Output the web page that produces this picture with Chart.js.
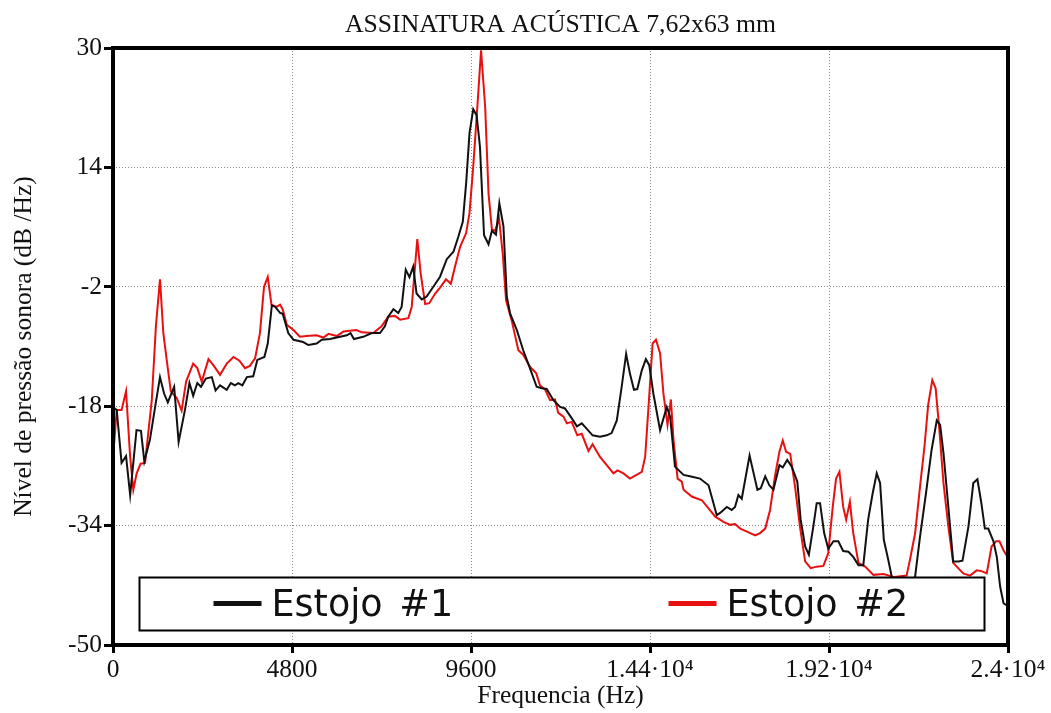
<!DOCTYPE html>
<html>
<head>
<meta charset="utf-8">
<script src="https://cdn.jsdelivr.net/npm/chart.js@4/dist/chart.umd.min.js"></script>
<style>
  html, body { margin: 0; padding: 0; background: #fff; }
  #wrap { width: 1051px; height: 713px; }
</style>
</head>
<body>
<div id="wrap"><canvas id="grafico" width="1051" height="713"></canvas></div>
<script>
// Estojo #1 - frequencia (Hz) e nivel (dB/Hz)
const freq1 = [0, 100, 230, 350, 460, 630, 750, 840, 990, 1130, 1260, 1370, 1470, 1640, 1760, 1930,
  2050, 2150, 2260, 2360, 2490, 2650, 2750, 2870, 3050, 3160, 3270, 3360, 3470, 3590, 3760, 3870,
  4060, 4150, 4260, 4350, 4480, 4550, 4700, 4840, 5100, 5240, 5460, 5600, 5820, 6000, 6270, 6370,
  6460, 6710, 6940, 7160, 7290, 7380, 7520, 7650, 7740, 7850, 7950, 8050, 8140, 8280, 8410, 8590,
  8770, 8950, 9130, 9260, 9380, 9470, 9560, 9660, 9750, 9840, 9950, 10070, 10160, 10270, 10360, 10470,
  10560, 10650, 10830, 11000, 11180, 11360, 11500, 11630, 11810, 11990, 12120, 12300, 12440, 12570, 12700, 12860,
  13060, 13240, 13370, 13510, 13640, 13760, 13860, 13970, 14060, 14180, 14290, 14380, 14490, 14670, 14850, 14940,
  15070, 15300, 15470, 15740, 15970, 16190, 16280, 16460, 16590, 16680, 16770, 16860, 17070, 17170, 17280, 17370,
  17490, 17600, 17710, 17870, 17960, 18080, 18200, 18350, 18440, 18560, 18660, 18780, 18870, 18960, 19070, 19180,
  19320, 19450, 19580, 19720, 19850, 19990, 20120, 20250, 20370, 20480, 20570, 20670, 20790, 20950, 21150, 21350,
  21510, 21640, 21800, 21950, 22090, 22180, 22270, 22400, 22530, 22670, 22780, 22940, 23070, 23180, 23280, 23380,
  23470, 23610, 23700, 23790, 23880, 24000];
const nivel1 = [-18.1, -18.5, -25.6, -24.7, -29.9, -21.2, -21.3, -25.4, -22.5, -18.1, -14.1, -16.3, -17.5, -15.4, -22.8, -18.5,
  -14.9, -16.6, -14.9, -15.4, -14.3, -14.1, -15.9, -15.2, -15.8, -14.9, -15.2, -14.9, -15.2, -14.1, -14.0, -11.8,
  -11.4, -9.6, -4.5, -4.7, -5.5, -5.6, -8.2, -9.1, -9.4, -9.8, -9.6, -9.1, -9.0, -8.8, -8.5, -8.2,
  -9.0, -8.7, -8.2, -8.2, -7.3, -6.0, -5.0, -5.5, -4.7, 0.3, -0.7, 0.7, -2.9, -3.7, -3.3, -2.0,
  -0.65, 1.7, 2.7, 4.7, 6.7, 11.9, 18.6, 21.8, 21.0, 16.8, 4.9, 3.7, 5.5, 5.0, 9.2, 6.1,
  -3.3, -5.6, -7.8, -10.5, -12.9, -15.4, -15.6, -15.7, -17.2, -18.1, -18.3, -19.6, -20.7, -20.3, -21.0, -21.9,
  -22.1, -21.9, -21.6, -19.9, -15.4, -11.0, -13.6, -15.8, -15.7, -13.2, -11.7, -12.5, -16.3, -21.2, -18.1, -19.4,
  -26.1, -27.2, -27.4, -27.7, -28.6, -32.6, -32.3, -31.5, -31.9, -31.5, -29.9, -30.4, -24.6, -26.8, -29.2, -29.0,
  -27.4, -28.6, -29.2, -25.9, -26.2, -25.2, -26.1, -28.1, -33.2, -36.8, -37.9, -34.1, -31.0, -31.0, -35.0, -37.1,
  -36.1, -36.1, -37.4, -37.5, -38.2, -39.3, -39.3, -33.2, -29.7, -27.0, -28.3, -35.9, -38.6, -42.5, -43.5, -42.5,
  -40.8, -35.5, -29.7, -23.9, -19.9, -20.5, -24.3, -31.5, -38.8, -38.8, -38.7, -34.1, -28.3, -27.8, -30.8, -34.4,
  -34.4, -36.1, -38.2, -42.2, -44.4, -44.8];

// Estojo #2
const freq2 = [0, 100, 230, 350, 460, 545, 635, 740, 860, 1040, 1150, 1260, 1350, 1440, 1550, 1710,
  1840, 1960, 2150, 2260, 2380, 2560, 2690, 2870, 3050, 3230, 3390, 3540, 3670, 3810, 3940, 4050,
  4150, 4250, 4390, 4480, 4550, 4660, 4840, 5010, 5190, 5460, 5640, 5780, 6000, 6180, 6530, 6670,
  6980, 7200, 7380, 7560, 7700, 7920, 8010, 8160, 8250, 8370, 8480, 8640, 8770, 8930, 9060, 9170,
  9310, 9470, 9560, 9660, 9770, 9870, 9980, 10070, 10160, 10250, 10350, 10450, 10540, 10690, 10870, 11000,
  11180, 11350, 11450, 11590, 11720, 11850, 11940, 12080, 12170, 12300, 12450, 12570, 12750, 12860, 13060, 13240,
  13420, 13530, 13690, 13860, 14040, 14180, 14270, 14360, 14470, 14560, 14670, 14760, 14870, 14960, 15030, 15140,
  15250, 15300, 15520, 15790, 15970, 16150, 16370, 16550, 16680, 16820, 17000, 17220, 17350, 17490, 17620, 17750,
  17870, 17960, 18050, 18160, 18290, 18420, 18560, 18710, 18870, 19050, 19180, 19300, 19390, 19480, 19580, 19660,
  19760, 19850, 19990, 20170, 20390, 20660, 20950, 21280, 21370, 21510, 21640, 21760, 21860, 21970, 22060, 22160,
  22270, 22400, 22530, 22800, 22980, 23160, 23290, 23430, 23560, 23680, 23770, 23880, 24000];
const nivel2 = [-25.0, -18.5, -18.5, -16.0, -24.8, -29.2, -27.0, -25.7, -25.6, -17.2, -7.3, -1.0, -8.2, -11.8, -16.0, -16.9,
  -18.6, -14.7, -12.3, -12.9, -14.7, -11.7, -12.5, -13.8, -12.3, -11.4, -11.9, -12.9, -12.6, -11.6, -8.2, -2.0,
  -0.7, -4.4, -4.7, -4.4, -5.0, -7.1, -7.8, -8.7, -8.6, -8.5, -8.8, -8.3, -8.6, -8.0, -7.8, -8.1,
  -8.2, -7.3, -6.0, -5.9, -6.4, -6.2, -4.7, 4.4, -0.2, -4.3, -4.2, -2.9, -2.1, -1.0, -1.6, 0.7,
  3.4, 5.2, 7.9, 14.1, 22.1, 29.7, 22.1, 10.5, 5.7, 5.5, 7.2, 2.5, -3.8, -6.5, -10.5, -11.1,
  -12.7, -13.6, -15.2, -15.8, -17.2, -17.1, -18.9, -19.4, -20.3, -20.1, -21.9, -21.7, -24.0, -23.1, -24.8, -25.9,
  -27.0, -26.6, -27.0, -27.7, -27.2, -26.8, -24.8, -18.1, -9.6, -9.1, -10.9, -16.3, -20.5, -17.1, -22.5, -27.7,
  -28.1, -29.2, -30.1, -30.6, -31.7, -32.8, -33.5, -33.9, -33.8, -34.4, -34.8, -35.3, -35.0, -34.4, -31.9, -27.4,
  -24.1, -22.6, -24.1, -24.4, -28.8, -34.1, -38.8, -39.7, -39.5, -39.4, -37.7, -31.5, -27.7, -26.8, -31.5, -33.2,
  -30.8, -35.0, -39.0, -39.5, -40.6, -40.5, -40.9, -40.7, -38.6, -35.0, -28.8, -23.4, -17.8, -14.5, -15.6, -21.2,
  -28.3, -34.1, -39.0, -40.4, -40.7, -40.0, -40.1, -40.4, -36.8, -36.1, -36.1, -37.3, -38.3];

const series = ['Estojo #1', 'Estojo #2'];
const xTicks = [0, 4800, 9600, 14400, 19200, 24000];
const xTickLabels = ['0', '4800', '9600', '1.44\u00b710\u2074', '1.92\u00b710\u2074', '2.4\u00b710\u2074'];
const yTicks = [-50, -34, -18, -2, 14, 30];

const pares = (xs, ys) => xs.map((x, i) => ({ x: x, y: ys[i] }));
const serif = '"Liberation Serif", "Times New Roman", serif';
const fonteEixo = { family: serif, size: 25.5 };

// titulo, moldura e legenda desenhados por cima do grafico
const moldura = {
  id: 'moldura',
  afterDatasetsDraw(chart) {
    const ctx = chart.ctx;
    const a = chart.chartArea;
    ctx.save();
    ctx.fillStyle = '#111';
    ctx.font = '25.7px ' + serif;
    ctx.textAlign = 'center';
    ctx.textBaseline = 'alphabetic';
    ctx.fillText('ASSINATURA AC\u00daSTICA 7,62x63 mm', (a.left + a.right) / 2, 32);

    ctx.strokeStyle = '#000';
    ctx.lineWidth = 4;
    ctx.strokeRect(a.left, a.top, a.right - a.left, a.bottom - a.top);

    // caixa da legenda
    const bx = 139.5, by = 577.5, bw = 845, bh = 53;
    ctx.fillStyle = '#fff';
    ctx.fillRect(bx, by, bw, bh);
    ctx.lineWidth = 2;
    ctx.strokeRect(bx, by, bw, bh);
    ctx.font = '36.5px "DejaVu Sans", Verdana, sans-serif';
    ctx.wordSpacing = '5px';
    ctx.textAlign = 'left';
    chart.data.datasets.forEach((ds, i) => {
      const sx = bx + 74 + i * 455;
      ctx.strokeStyle = ds.borderColor;
      ctx.lineWidth = 5;
      ctx.beginPath();
      ctx.moveTo(sx, by + 26);
      ctx.lineTo(sx + 48, by + 26);
      ctx.stroke();
      ctx.fillStyle = '#111';
      ctx.fillText(ds.label, sx + 58, by + 38);
    });
    ctx.restore();
  }
};

new Chart(document.getElementById('grafico'), {
  type: 'line',
  data: {
    datasets: [
      { label: series[0], data: pares(freq1, nivel1), borderColor: '#111111', borderWidth: 2 },
      { label: series[1], data: pares(freq2, nivel2), borderColor: '#e81010', borderWidth: 2 }
    ]
  },
  options: {
    responsive: false,
    animation: false,
    parsing: false,
    layout: { padding: { top: 48, right: 43, left: 0, bottom: 0 } },
    elements: { point: { radius: 0 }, line: { tension: 0 } },
    plugins: { legend: { display: false }, title: { display: false }, tooltip: { enabled: false } },
    scales: {
      x: {
        type: 'linear',
        min: 0, max: 24000,
        afterBuildTicks: s => { s.ticks = xTicks.map(v => ({ value: v })); },
        afterFit: s => { s.height = 68; },
        ticks: {
          autoSkip: false, maxRotation: 0, padding: 2,
          color: '#111', font: fonteEixo,
          callback: v => xTickLabels[xTicks.indexOf(v)]
        },
        grid: { color: '#8a8a8a', lineWidth: 1, tickColor: '#000', tickWidth: 3, tickLength: 8 },
        border: { display: false, dash: [1, 2] },
        title: { display: true, text: 'Frequencia (Hz)', color: '#111',
          font: fonteEixo, padding: { top: 0, bottom: 1 } }
      },
      y: {
        min: -50, max: 30,
        afterBuildTicks: s => { s.ticks = yTicks.map(v => ({ value: v })); },
        afterFit: s => { s.width = 113; },
        ticks: { padding: 2, color: '#111', font: fonteEixo },
        grid: { color: '#8a8a8a', lineWidth: 1, tickColor: '#000', tickWidth: 3, tickLength: 9 },
        border: { display: false, dash: [1, 2] },
        title: { display: true, text: 'N\u00edvel de press\u00e3o sonora (dB /Hz)', color: '#111',
          font: fonteEixo, padding: { top: 9, bottom: 0 } }
      }
    }
  },
  plugins: [moldura]
});
</script>
</body>
</html>
